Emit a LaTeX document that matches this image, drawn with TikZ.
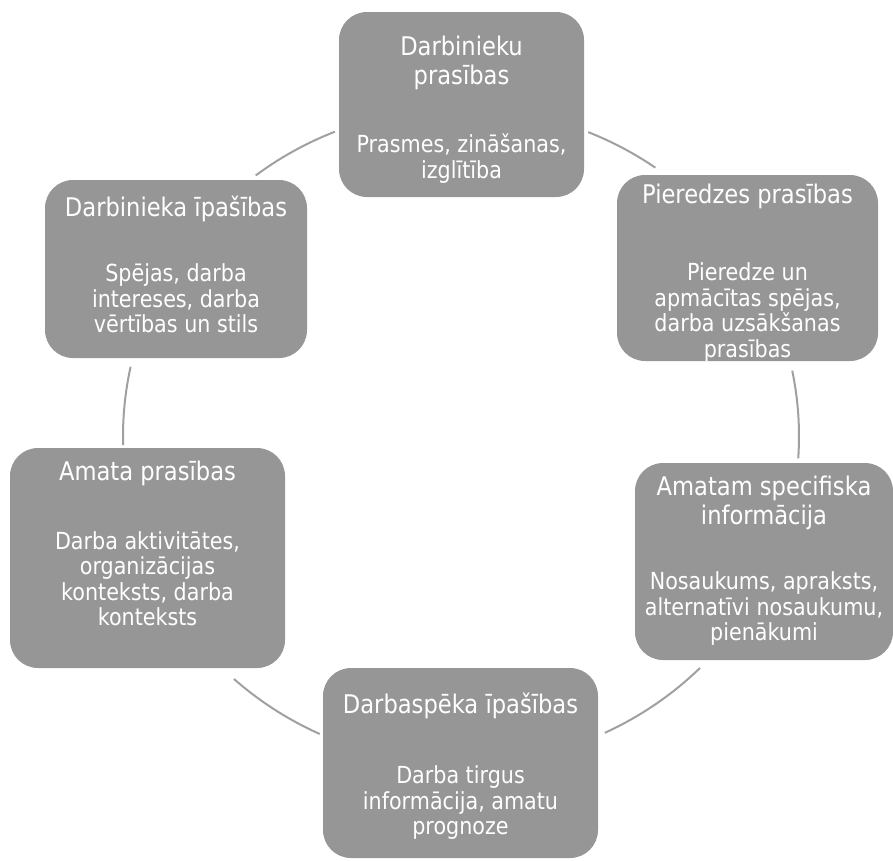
\documentclass[tikz,border=0pt]{standalone}
\usepackage{fontspec}
\setmainfont{DejaVu Sans}[FakeStretch=0.88]
\usepackage{tikz}
\usetikzlibrary{positioning}
\definecolor{boxgray}{RGB}{150,150,150}
\definecolor{ringgray}{RGB}{160,160,160}

\begin{document}
\begin{tikzpicture}[x=1pt,y=-1pt,
    block/.style={fill=boxgray,rounded corners=28pt,inner sep=0pt},
    head/.style={text=white,align=center,inner sep=0pt,font=\fontsize{25.7}{29}\selectfont},
    body/.style={text=white,align=center,inner sep=0pt,font=\fontsize{23.5}{25.5}\selectfont},
    ring/.style={draw=ringgray,line width=2pt}]
   \useasboundingbox (0,0) rectangle (893,860);
   \coordinate (hub) at (461,436);
   \draw[ring] (hub) ++(67.9:338pt and 328pt) arc[start angle=67.9,end angle=54.9,x radius=338pt,y radius=328pt];
   \draw[ring] (hub) ++(11.5:338pt and 328pt) arc[start angle=11.5,end angle=-3.9,x radius=338pt,y radius=328pt];
   \draw[ring] (hub) ++(-45:338pt and 328pt) arc[start angle=-45,end angle=-64.8,x radius=338pt,y radius=328pt];
   \draw[ring] (hub) ++(-114.7:338pt and 328pt) arc[start angle=-114.7,end angle=-132.2,x radius=338pt,y radius=328pt];
   \draw[ring] (hub) ++(181.6:338pt and 328pt) arc[start angle=181.6,end angle=167.8,x radius=338pt,y radius=328pt];
   \draw[ring] (hub) ++(127.4:338pt and 328pt) arc[start angle=127.4,end angle=111.9,x radius=338pt,y radius=328pt];

   \node[block,minimum width=245pt,minimum height=185pt] (b1) at (461.5,104.5) {};
   \node[head] (t1) [below=23.5pt of b1.north] {Darbinieku\\prasības};
   \node[body] (d1) [below=44pt of t1] {Prasmes, zināšanas,\\izglītība};

   \node[block,minimum width=261pt,minimum height=186pt] (b2) at (747.5,268) {};
   \node[head] (t2) [below=8.5pt of b2.north] {Pieredzes prasības};
   \node[body] (d2) [below=54pt of t2] {Pieredze un\\apmācītas spējas,\\darba uzsākšanas\\prasības};

   \node[block,minimum width=258pt,minimum height=197pt] (b3) at (764,561.5) {};
   \node[head] (t3) [below=12.5pt of b3.north] {Amatam specifiska\\informācija};
   \node[body] (d3) [below=42pt of t3] {Nosaukums, apraksts,\\alternatīvi nosaukumu,\\pienākumi};

   \node[block,minimum width=275pt,minimum height=190pt] (b5) at (460.5,763) {};
   \node[head] (t5) [below=24.5pt of b5.north] {Darbaspēka īpašības};
   \node[body] (d5) [below=47pt of t5] {Darba tirgus\\informācija, amatu\\prognoze};

   \node[block,minimum width=275pt,minimum height=220pt] (b4) at (147.5,558) {};
   \node[head] (t4) [below=12.5pt of b4.north] {Amata prasības};
   \node[body] (d4) [below=45.4pt of t4] {Darba aktivitātes,\\organizācijas\\konteksts, darba\\konteksts};

   \node[block,minimum width=262pt,minimum height=178pt] (b6) at (176,269) {};
   \node[head] (t6) [below=15.5pt of b6.north] {Darbinieka īpašības};
   \node[body] (d6) [below=42pt of t6] {Spējas, darba\\intereses, darba\\vērtības un stils};
\end{tikzpicture}
\end{document}
